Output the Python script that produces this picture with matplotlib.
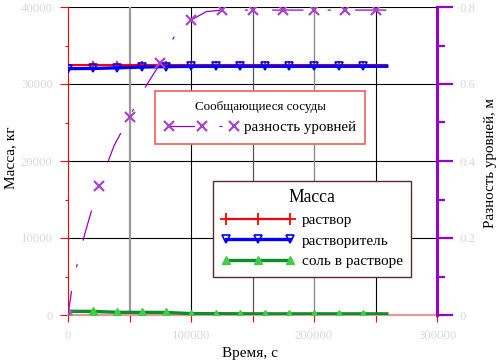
import matplotlib
matplotlib.use("Agg")
import matplotlib.pyplot as plt
from matplotlib.lines import Line2D
from matplotlib.ticker import MultipleLocator, FixedLocator

plt.rcParams['font.family'] = ['Liberation Serif', 'DejaVu Serif']
plt.rcParams['lines.scale_dashes'] = False

# ---- data ----
time_mass = [0, 20000, 40000, 60000, 80000, 100000, 120000, 140000, 160000,
             180000, 200000, 220000, 240000, 259200]
solution = [32420, 32420, 32420, 32420, 32420, 32420, 32420, 32420, 32420,
            32420, 32420, 32420, 32420, 32420]
solvent = [32000, 32020, 32100, 32200, 32260, 32290, 32300, 32300, 32300,
           32300, 32300, 32300, 32300, 32300]
salt = [480, 470, 350, 340, 330, 180, 170, 160, 150, 150, 150, 150, 150, 150]

time_level = [0, 3000, 8000, 14000, 25000, 37500, 50000, 62500, 75000, 87500,
              100000, 112500, 125000, 150000, 175000, 200000, 225000, 250000, 259200]
level_diff = [0, 0.065, 0.14, 0.215, 0.335, 0.44, 0.515, 0.59, 0.654, 0.73,
              0.766, 0.788, 0.792, 0.792, 0.792, 0.792, 0.792, 0.792, 0.792]
level_marker_times = [0, 25000, 50000, 75000, 100000, 125000, 150000, 175000,
                      200000, 225000, 250000]

x_major = [0, 100000, 200000, 300000]
x_major_labels = ['0', '100000', '200000', '300000']
y_major = [0, 10000, 20000, 30000, 40000]
y_major_labels = ['0', '10000', '20000', '30000', '40000']
y2_major = [0, 0.2, 0.4, 0.6, 0.8]
y2_major_labels = ['0', '0.2', '0.4', '0.6', '0.8']

label_mass = 'раствор'
label_solvent = 'растворитель'
label_salt = 'соль в растворе'
label_level = 'разность уровней'
title_level = 'Сообщающиеся сосуды'
title_mass = 'Масса'

# ---- figure ----
W, H = 498, 363
fig = plt.figure(figsize=(W / 100, H / 100), dpi=100)
ax = fig.add_axes([68 / W, 48 / H, 369 / W, 308 / H])
ax2 = ax.twinx()

ax.set_xlim(0, 300000)
ax.set_ylim(0, 40000)
ax2.set_ylim(0, 0.8)

# grid
for yv in y_major[1:]:
    ax.axhline(yv, color='black', lw=0.8, zorder=1)
vgrid = [(50000, '#9a9a9a', 1.6), (100000, 'black', 0.8), (150000, '#555555', 0.9),
         (200000, '#8a8a8a', 1.0), (250000, 'black', 0.8)]
for xv, c, lw in vgrid:
    ax.axvline(xv, color=c, lw=lw, zorder=1)

# spines
for s in ['top', 'right']:
    ax.spines[s].set_visible(False)
ax.spines['left'].set_color('red')
ax.spines['left'].set_linewidth(0.8)
ax.spines['bottom'].set_color('#e39a9a')
ax.spines['bottom'].set_linewidth(1.6)
for s in ['top', 'left', 'bottom']:
    ax2.spines[s].set_visible(False)
ax2.spines['right'].set_color('#9900cc')
ax2.spines['right'].set_linewidth(2.2)

# ticks
ax.xaxis.set_major_locator(FixedLocator(x_major))
ax.set_xticklabels(x_major_labels)
ax.xaxis.set_minor_locator(FixedLocator([50000, 150000, 250000]))
ax.tick_params(axis='x', which='both', direction='out', length=5, width=0.8,
               color='red', labelcolor='#d9d9d9', labelsize=9.2, pad=6)
ax.yaxis.set_major_locator(FixedLocator(y_major))
ax.set_yticklabels(y_major_labels)
ax.yaxis.set_minor_locator(MultipleLocator(5000))
ax.tick_params(axis='y', which='major', direction='out', length=6, width=0.8,
               color='red', labelcolor='#d9d9d9', labelsize=9.2, pad=5)
ax.tick_params(axis='y', which='minor', direction='out', length=2.5, width=0.8,
               color='red')
ax2.yaxis.set_major_locator(FixedLocator(y2_major))
ax2.set_yticklabels(y2_major_labels)
ax2.yaxis.set_minor_locator(MultipleLocator(0.1))
ax2.tick_params(axis='y', which='major', direction='out', length=11.5, width=1.6,
                color='#9900cc', labelcolor='#d9d9d9', labelsize=9.2, pad=5)
ax2.tick_params(axis='y', which='minor', direction='out', length=6, width=1.6,
                color='#9900cc')

# data
mass_mark = list(range(len(time_mass) - 1))
ax.plot(time_mass, solution, color='red', lw=1.5, marker='+', ms=6, mew=1.2,
        markevery=mass_mark, zorder=3)
ax.plot(time_mass, solvent, color='blue', lw=2.4, marker='v', ms=6, mfc='none',
        mec='blue', mew=1.2, markevery=mass_mark, zorder=4)
ax.plot(time_mass, salt, color='#0a8f2a', lw=2.4, marker='^', ms=6,
        mfc='#44cc44', mec='#44cc44', markevery=mass_mark, zorder=5)

level_idx = [time_level.index(t) for t in level_marker_times]
dash = (22.5, 17.5, 2.2, 17.5)
ax2.plot(time_level, level_diff, color='#9900cc', lw=0.9, ls=(5, dash),
         marker='x', ms=7, mew=1.6, mec='#aa44cc', markevery=level_idx, zorder=6)

# legends
h_level = Line2D([], [], color='#9900cc', lw=0.9, ls=(4, dash), marker='x',
                 ms=7, mew=1.6, mec='#aa44cc')
leg1 = ax2.legend([h_level], [label_level], title=title_level, numpoints=3,
                  loc='upper left', bbox_to_anchor=(155 / W, 1 - 91 / H),
                  bbox_transform=fig.transFigure, borderaxespad=0,
                  fontsize=10.8, title_fontsize=9.4, handlelength=4.9,
                  handletextpad=0.35, fancybox=False, framealpha=1,
                  edgecolor='#f06a6a', borderpad=0.65)
leg1.get_frame().set_linewidth(1.3)
ax2.add_artist(leg1)

h_sol = Line2D([], [], color='red', lw=1.6, marker='+', ms=8, mew=1.3)
h_solv = Line2D([], [], color='blue', lw=2.4, marker='v', ms=6, mfc='none',
                mec='blue', mew=1.2)
h_salt = Line2D([], [], color='#0a8f2a', lw=2.4, marker='^', ms=6,
                mfc='#44cc44', mec='#44cc44')
leg2 = ax2.legend([h_sol, h_solv, h_salt], [label_mass, label_solvent, label_salt],
                  title=title_mass, numpoints=3, loc='upper left',
                  bbox_to_anchor=(213 / W, 1 - 181 / H),
                  bbox_transform=fig.transFigure, borderaxespad=0,
                  fontsize=11, title_fontsize=12.7, handlelength=4.8,
                  handletextpad=0.45, fancybox=False, framealpha=1,
                  edgecolor='#5c2b2b', borderpad=0.55, labelspacing=0.45)
leg2.get_frame().set_linewidth(1.0)

# axis labels
fig.text(11 / W, 1 - 158 / H, 'Масса, кг', rotation=90, ha='center', va='center',
         fontsize=11)
fig.text(490 / W, 1 - 163 / H, 'Разность уровней, м', rotation=90, ha='center',
         va='center', fontsize=10.8)
fig.text(250 / W, 1 - 353 / H, 'Время, с', ha='center', va='center', fontsize=11)

fig.savefig('out.png', dpi=100)
